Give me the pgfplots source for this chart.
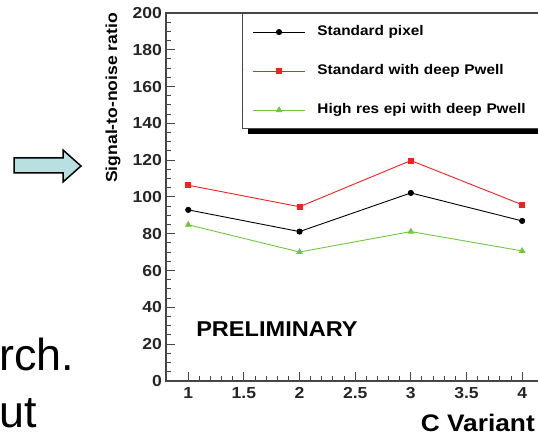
\documentclass[border=0pt]{standalone}
\usepackage{fontspec}
\setmainfont{Liberation Sans}[FakeStretch=1.1]
\newfontfamily\slidefont{Liberation Sans}
\usepackage{pgfplots}
\pgfplotsset{compat=1.18}

\definecolor{rootred}{RGB}{250,30,30}
\definecolor{rootgreen}{RGB}{110,200,60}
\definecolor{arrowfill}{RGB}{185,224,225}
\definecolor{axisgray}{RGB}{70,70,70}

\begin{document}
\begin{tikzpicture}[x=1bp,y=1bp]
\useasboundingbox (0,0) rectangle (538,436);

% slide fragments around the chart
\fill[arrowfill, draw=black, line width=1.5bp]
  (14,278) -- (63,278) -- (63,286) -- (81,270) -- (63,254) -- (63,263) -- (14,263) -- cycle;
\node[anchor=base west, inner sep=0pt] at (-1,65) {\slidefont\fontsize{45}{45}\selectfont rch.};
\node[anchor=base west, inner sep=0pt] at (-1,8) {\slidefont\fontsize{45}{45}\selectfont ut};

% legend shadow (ROOT style), sits behind the legend box
\fill[black] (248,302) rectangle (544,417);

\begin{axis}[
    at={(166bp,55bp)}, anchor=south west,
    scale only axis,
    width=378.4bp, height=368bp,
    xmin=0.8, xmax=4.2,
    ymin=0, ymax=200,
    xtick={1,1.5,2,2.5,3,3.5,4},
    ytick={0,20,...,200},
    minor x tick num=4,
    minor y tick num=3,
    tick align=inside,
    tick pos=left,
    major tick length=9bp,
    minor tick length=5bp,
    axis line style={axisgray, line width=1.3bp},
    every tick/.style={axisgray, line width=1bp},
    /pgf/number format/assume math mode=true,
    ticklabel style={font=\bfseries\fontsize{16}{16}\selectfont, text=black!85},
    xticklabel style={inner sep=0pt, yshift=-6bp},
    yticklabel style={inner sep=0pt, xshift=-4bp},
    legend cell align=left,
    legend style={
        at={(0.2008,1)}, anchor=north west,
        draw=axisgray, line width=1.2bp, fill=white,
        inner xsep=10bp, inner ysep=12bp,
        row sep=26bp, column sep=12bp,
        font=\bfseries\fontsize{14}{14}\selectfont,
        nodes={inner sep=0pt, text height=10bp, text depth=3bp, text width=212bp, align=left},
    },
    legend image code/.code={
        \draw[mark repeat=2, mark phase=2, #1]
            plot coordinates {(0bp,0bp) (26bp,0bp) (52bp,0bp)};
    },
]
% Standard pixel
\addplot[black, line width=0.9bp, mark=*, mark size=2.6bp]
    coordinates {(1,93.0) (2,81.2) (3,102.2) (4,87.0)};
\addlegendentry{Standard pixel}
% Standard with deep Pwell
\addplot[rootred, line width=0.9bp, mark=square*, mark size=2.4bp]
    coordinates {(1,106.4) (2,94.7) (3,119.8) (4,95.8)};
\addlegendentry{Standard with deep Pwell}
% High res epi with deep Pwell
\addplot[rootgreen, line width=0.9bp, mark=triangle*, mark size=3bp]
    coordinates {(1,84.9) (2,70.1) (3,81.2) (4,70.7)};
\addlegendentry{High res epi with deep Pwell}

\node[anchor=base west, inner sep=0pt, font=\bfseries\fontsize{21.5}{21.5}\selectfont]
    at (axis cs:1.07,24) {PRELIMINARY};
\end{axis}

\node[anchor=base east, rotate=90, inner sep=0pt, font=\bfseries\fontsize{16}{16}\selectfont]
    at (117,423) {Signal-to-noise ratio};
\node[anchor=base east, inner sep=0pt, font=\bfseries\fontsize{24}{24}\selectfont]
    at (535,4) {C Variant};
\end{tikzpicture}
\end{document}
